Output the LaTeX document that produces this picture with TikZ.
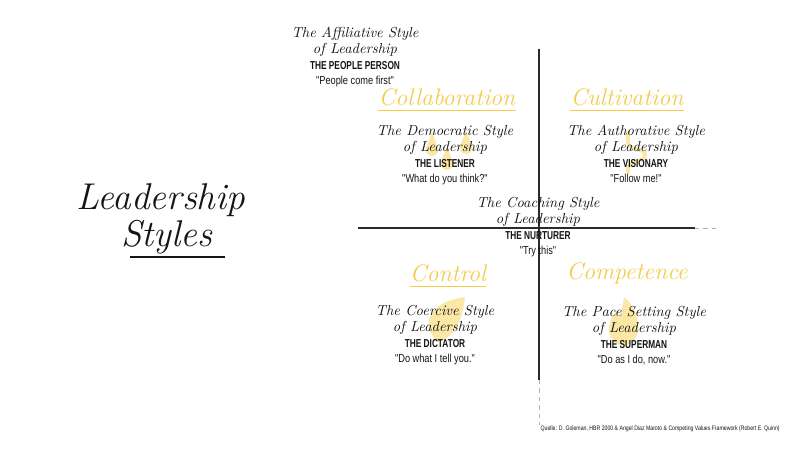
\documentclass[tikz,border=0pt]{standalone}
\usepackage{fontspec}
\usepackage{tikz}
\usetikzlibrary{positioning}
\newfontfamily\labelfont[FakeStretch=0.8]{Liberation Sans}
\newfontfamily\rolefont[FakeStretch=0.72]{Liberation Sans}
\definecolor{ink}{HTML}{151515}
\definecolor{gold}{HTML}{F4CC4A}
\definecolor{pale}{HTML}{FBE8A6}
\definecolor{axis}{HTML}{2A2A2A}

\begin{document}
\begin{tikzpicture}[x=0.025cm,y=-0.025cm,
  stylename/.style={font=\itshape\fontsize{10.3}{11}\selectfont,text=ink,align=center,inner sep=0pt},
  role/.style={font=\rolefont\bfseries\fontsize{8.2}{8.2}\selectfont,text=ink,inner sep=0pt},
  motto/.style={font=\labelfont\fontsize{8.2}{8.2}\selectfont,text=ink,inner sep=0pt},
  field/.style={font=\itshape\fontsize{17}{17}\selectfont,text=gold,inner sep=0pt},
  goldline/.style={gold,line width=0.8pt},
  axisline/.style={axis,line width=1.3pt},
  fadeline/.style={gray!60,line width=0.6pt,dashed}
]
  \useasboundingbox[fill=white] (0,0) rectangle (800,450);

  % pale icons behind the quadrants
  \fill[pale] (432,150) circle[radius=6];
  \fill[pale] (426.3,148) -- (432,132) -- (437.7,148) -- cycle;
  \fill[pale] (466,148) circle[radius=6];
  \fill[pale] (460.3,146) -- (466,130) -- (471.7,146) -- cycle;
  \fill[pale] (447,164) circle[radius=6];
  \fill[pale] (441.3,162) -- (447,146) -- (452.7,162) -- cycle;
  \draw[pale,line width=2.6pt,line cap=round] (628,132) -- (628,142)
    .. controls (628,151) and (645,147) .. (645,155)
    .. controls (645,163) and (628,160) .. (628,168) -- (628,173);
  \fill[pale] (438,342) .. controls (420,325) and (428,302) .. (465,297)
    .. controls (462,322) and (455,336) .. (438,342) -- cycle;
  \fill[pale] (624,346) .. controls (604,342) and (606,322) .. (617,311)
    .. controls (616,320) and (621,322) .. (624,297)
    .. controls (640,310) and (646,340) .. (624,346) -- cycle;

  % axes
  \coordinate (vtop) at (539,49);
  \coordinate (vmid) at (539,380);
  \coordinate (vbot) at (539,425);
  \coordinate (hleft) at (358,228);
  \coordinate (hmid) at (695,228);
  \coordinate (hright) at (720,228);
  \draw[axisline] (vtop) -- (vmid);
  \draw[fadeline] (vmid) -- (vbot);
  \draw[axisline] (hleft) -- (hmid);
  \draw[fadeline] (hmid) -- (hright);

  % title
  \node[font=\itshape\fontsize{26.5}{26}\selectfont,text=ink,inner sep=0pt] (lead) at (161,200) {Leadership};
  \node[font=\itshape\fontsize{26.5}{26}\selectfont,text=ink,inner sep=0pt] (styl) at (167,237) {Styles};
  \coordinate (ulleft) at (130,257);
  \coordinate (ulright) at (225,257);
  \draw[ink,line width=0.9pt] (ulleft) -- (ulright);

  % quadrant names
  \node[field] (collab) at (447,97) {Collaboration};
  \node[field] (cultiv) at (627,97) {Cultivation};
  \node[field] (contr) at (448,273) {Control};
  \node[field] (compet) at (627,273) {Competence};
  \draw[goldline] ([yshift=-3pt]collab.south west) -- ([yshift=-3pt]collab.south east);
  \draw[goldline] ([yshift=-3pt]cultiv.south west) -- ([yshift=-3pt]cultiv.south east);
  \draw[goldline] ([yshift=-3pt]contr.south west) -- ([yshift=-3pt]contr.south east);

  % the six styles
  \node[stylename] (affil) at (355,42) {The Affiliative Style\\of Leadership};
  \node[role,below=3pt of affil] (affilr) {THE PEOPLE PERSON};
  \node[motto,below=4.5pt of affilr] (affilq) {"People come first"};

  \node[stylename] (demo) at (445,140) {The Democratic Style\\of Leadership};
  \node[role,below=3pt of demo] (demor) {THE LISTENER};
  \node[motto,below=4.5pt of demor] (demoq) {"What do you think?"};

  \node[stylename] (auth) at (636,140) {The Authorative Style\\of Leadership};
  \node[role,below=3pt of auth] (authr) {THE VISIONARY};
  \node[motto,below=4.5pt of authr] (authq) {"Follow me!"};

  \node[stylename] (coach) at (538,212) {The Coaching Style\\of Leadership};
  \node[role,below=3pt of coach] (coachr) {THE NURTURER};
  \node[motto,below=4.5pt of coachr] (coachq) {"Try this"};

  \node[stylename] (coerc) at (435,320) {The Coercive Style\\of Leadership};
  \node[role,below=3pt of coerc] (coercr) {THE DICTATOR};
  \node[motto,below=4.5pt of coercr] (coercq) {"Do what I tell you."};

  \node[stylename] (pace) at (634,321) {The Pace Setting Style\\of Leadership};
  \node[role,below=3pt of pace] (pacer) {THE SUPERMAN};
  \node[motto,below=4.5pt of pacer] (paceq) {"Do as I do, now."};

  % source
  \node[font=\labelfont\fontsize{4.6}{4.6}\selectfont,text=ink,anchor=east,inner sep=0pt] (src) at (780,429)
    {Quelle: D. Goleman, HBR 2000 \& Angel Diaz Maroto \& Competing Values Framework (Robert E. Quinn)};
\end{tikzpicture}
\end{document}
